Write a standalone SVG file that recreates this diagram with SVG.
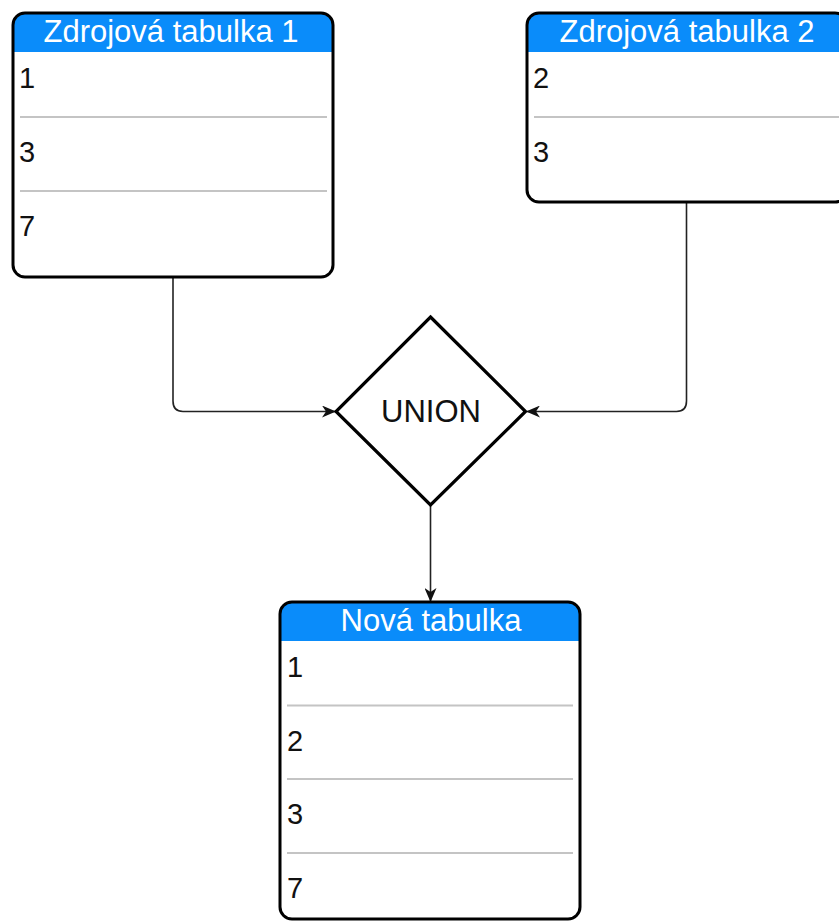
<svg xmlns="http://www.w3.org/2000/svg" width="839" height="921" viewBox="0 0 839 921">
  <style>
    .body { fill: #ffffff; }
    .frame { fill: none; stroke: #000000; stroke-width: 3; }
    .head { fill: #0a8cfa; }
    .title { font-family: "Liberation Sans", Arial, sans-serif; font-size: 31px; fill: #ffffff; text-anchor: middle; }
    .cell { font-family: "Liberation Sans", Arial, sans-serif; font-size: 29px; fill: #111111; }
    .sep { stroke: #c4c4c4; stroke-width: 2; }
    .edge { fill: none; stroke: #222222; stroke-width: 1.6; }
    .diamond { fill: #ffffff; stroke: #000000; stroke-width: 3.2; }
    .label { font-family: "Liberation Sans", Arial, sans-serif; font-size: 31px; fill: #111111; text-anchor: middle; }
  </style>
  <defs>
    <marker id="arrow" viewBox="0 0 14 12" refX="13" refY="6" markerWidth="14" markerHeight="12" markerUnits="userSpaceOnUse" orient="auto">
      <path d="M0,0 L14,6 L0,12 L4,6 Z" fill="#111111"/>
    </marker>
    <clipPath id="clip-t1"><rect x="13" y="13" width="320" height="264" rx="12"/></clipPath>
    <clipPath id="clip-t2"><rect x="527" y="13" width="320" height="189" rx="12"/></clipPath>
    <clipPath id="clip-t3"><rect x="280" y="602" width="300" height="317" rx="12"/></clipPath>
  </defs>

  <rect width="839" height="921" fill="#ffffff"/>

  <!-- connectors -->
  <g id="connectors">
    <path class="edge" d="M173,277 V401 Q173,411.5 183,411.5 H335" marker-end="url(#arrow)"/>
    <path class="edge" d="M686.5,202 V401 Q686.5,411.5 676.5,411.5 H527" marker-end="url(#arrow)"/>
    <path class="edge" d="M430.5,505 V601" marker-end="url(#arrow)"/>
  </g>

  <!-- source table 1 -->
  <g id="source-table-1">
    <rect class="body" x="13" y="13" width="320" height="264" rx="12"/>
    <rect class="head" x="13" y="13" width="320" height="39" clip-path="url(#clip-t1)"/>
    <line class="sep" x1="20" y1="117" x2="327" y2="117"/>
    <line class="sep" x1="20" y1="191" x2="327" y2="191"/>
    <text class="title" x="171" y="42">Zdrojová tabulka 1</text>
    <text class="cell" x="19" y="88">1</text>
    <text class="cell" x="19" y="162">3</text>
    <text class="cell" x="19" y="236">7</text>
    <rect class="frame" x="13" y="13" width="320" height="264" rx="12"/>
  </g>

  <!-- source table 2 -->
  <g id="source-table-2">
    <rect class="body" x="527" y="13" width="320" height="189" rx="12"/>
    <rect class="head" x="527" y="13" width="320" height="39" clip-path="url(#clip-t2)"/>
    <line class="sep" x1="534" y1="117" x2="841" y2="117"/>
    <text class="title" x="687" y="42">Zdrojová tabulka 2</text>
    <text class="cell" x="533" y="88">2</text>
    <text class="cell" x="533" y="162">3</text>
    <rect class="frame" x="527" y="13" width="320" height="189" rx="12"/>
  </g>

  <!-- union operator -->
  <g id="union">
    <polygon class="diamond" points="430.5,317 525.5,411.5 430.5,505 336,411.5"/>
    <text class="label" x="431" y="422">UNION</text>
  </g>

  <!-- result table -->
  <g id="result-table">
    <rect class="body" x="280" y="602" width="300" height="317" rx="12"/>
    <rect class="head" x="280" y="602" width="300" height="39" clip-path="url(#clip-t3)"/>
    <line class="sep" x1="287" y1="705.5" x2="573" y2="705.5"/>
    <line class="sep" x1="287" y1="779" x2="573" y2="779"/>
    <line class="sep" x1="287" y1="853" x2="573" y2="853"/>
    <text class="title" x="431" y="631">Nová tabulka</text>
    <text class="cell" x="287" y="677">1</text>
    <text class="cell" x="287" y="751">2</text>
    <text class="cell" x="287" y="824">3</text>
    <text class="cell" x="287" y="898">7</text>
    <rect class="frame" x="280" y="602" width="300" height="317" rx="12"/>
  </g>
</svg>
